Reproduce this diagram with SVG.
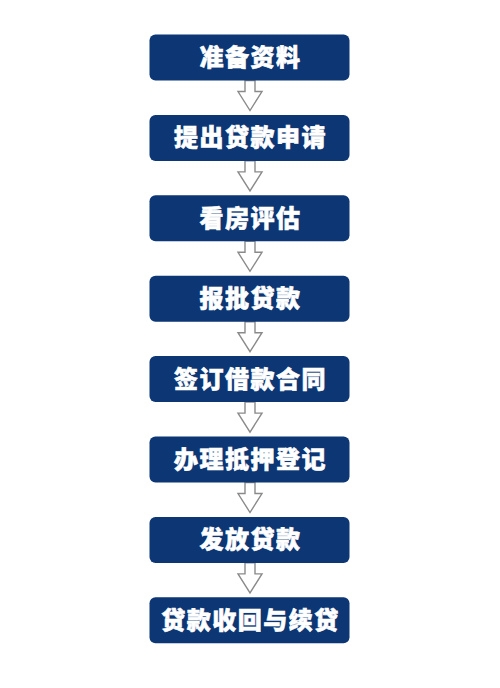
<svg xmlns="http://www.w3.org/2000/svg" width="500" height="688" viewBox="0 0 500 688">
<defs>
<style>
.box{fill:#0c3674;}
.lbl{fill:#ffffff;stroke:#ffffff;stroke-width:0.6;font-family:"Noto Sans CJK SC","Noto Sans CJK JP",sans-serif;font-weight:900;font-size:24px;letter-spacing:1.5px;text-anchor:middle;}
.arr{fill:#ffffff;stroke:#8a8a8a;stroke-width:1.4;stroke-linejoin:miter;}
</style>
<polygon id="ar" class="arr" points="245,0 255,0 255,11 262,11 250,30 238,11 245,11"/>
</defs>
<rect width="500" height="688" fill="#ffffff"/>
<g id="connectors">
<use href="#ar" y="80.5"/>
<use href="#ar" y="160.9"/>
<use href="#ar" y="241.3"/>
<use href="#ar" y="321.7"/>
<use href="#ar" y="402.1"/>
<use href="#ar" y="482.5"/>
<use href="#ar" y="562.9"/>
</g>
<g id="n1"><rect class="box" x="149.5" y="34.5" width="200" height="46" rx="6"/><text class="lbl" x="250.5" y="66">准备资料</text></g>
<g id="n2"><rect class="box" x="149.5" y="114.9" width="200" height="46" rx="6"/><text class="lbl" x="250.5" y="146.4">提出贷款申请</text></g>
<g id="n3"><rect class="box" x="149.5" y="195.3" width="200" height="46" rx="6"/><text class="lbl" x="250.5" y="226.8">看房评估</text></g>
<g id="n4"><rect class="box" x="149.5" y="275.7" width="200" height="46" rx="6"/><text class="lbl" x="250.5" y="307.2">报批贷款</text></g>
<g id="n5"><rect class="box" x="149.5" y="356.1" width="200" height="46" rx="6"/><text class="lbl" x="250.5" y="387.6">签订借款合同</text></g>
<g id="n6"><rect class="box" x="149.5" y="436.5" width="200" height="46" rx="6"/><text class="lbl" x="250.5" y="468">办理抵押登记</text></g>
<g id="n7"><rect class="box" x="149.5" y="516.9" width="200" height="46" rx="6"/><text class="lbl" x="250.5" y="548.4">发放贷款</text></g>
<g id="n8"><rect class="box" x="149.5" y="597.3" width="200" height="46" rx="6"/><text class="lbl" x="250.5" y="628.8">贷款收回与续贷</text></g>
</svg>
